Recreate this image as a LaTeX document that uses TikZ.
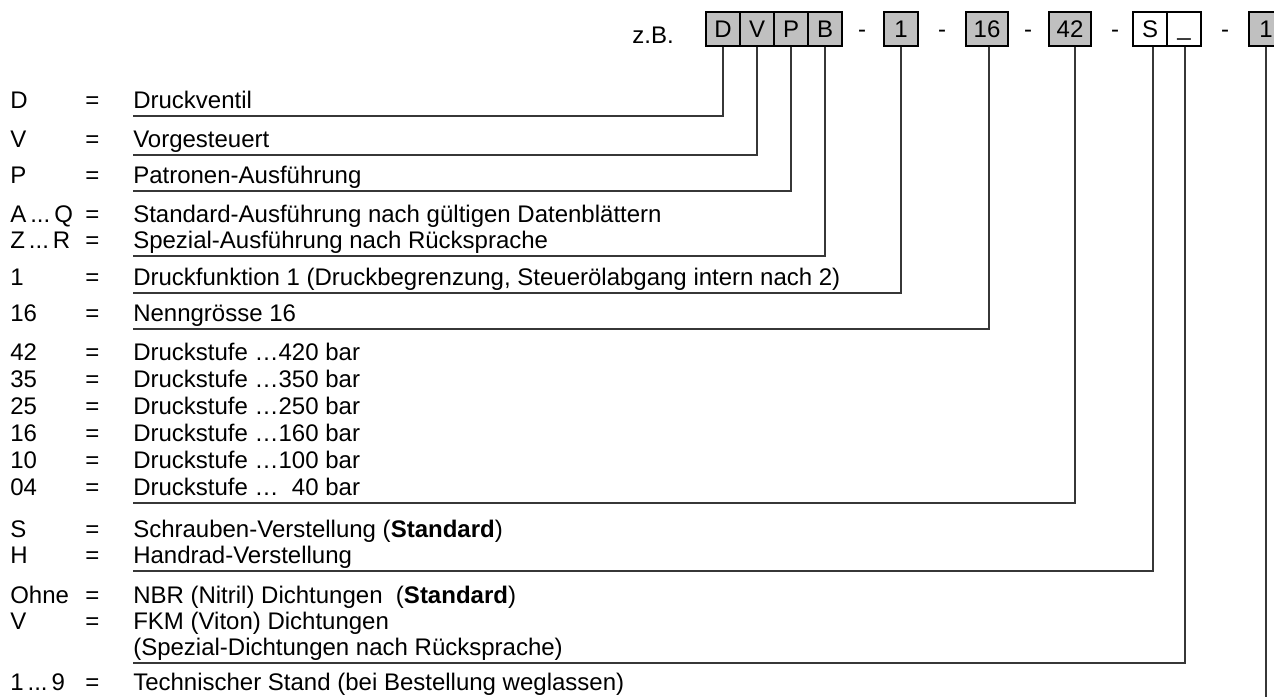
\documentclass[tikz,border=0pt]{standalone}
\usepackage{fontspec}
\setmainfont{Liberation Sans}
\definecolor{boxgray}{RGB}{192,192,192}
\definecolor{leader}{RGB}{55,55,55}
\begin{document}
\begin{tikzpicture}[x=0.75pt,y=-0.75pt,
  font=\fontsize{18pt}{20pt}\selectfont,
  codebox/.style={draw=black, line width=0.9pt, fill=boxgray, inner sep=0pt,
    minimum height=25.5pt, minimum width=25.5pt, text height=12.9pt, text depth=0pt},
  codewide/.style={codebox, minimum width=31.5pt},
  codeopen/.style={codebox, fill=white},
  sep/.style={anchor=base, inner sep=0pt},
  lab/.style={anchor=base west, inner sep=0pt},
  desc/.style={anchor=base west, inner sep=0pt},
  lead/.style={draw=leader, line width=1.05pt}]
\clip (0,0) rectangle (1274,697);
\fill[white] (0,0) rectangle (1274,697);

% ---- type code header ----
\node[anchor=base east, inner sep=0pt] (zb) at (674,43) {z.B.};
\node[codebox] (bD) at (723,29) {D};
\node[codebox] (bV) at (757,29) {V};
\node[codebox] (bP) at (791,29) {P};
\node[codebox] (bB) at (825,29) {B};
\node[sep] (s1) at (862,37) {-};
\node[codebox] (bF) at (901,29) {1};
\node[sep] (s2) at (942,37) {-};
\node[codewide] (bN) at (987,29) {16};
\node[sep] (s3) at (1028,37) {-};
\node[codewide] (bS) at (1070,29) {42};
\node[sep] (s4) at (1115,37) {-};
\node[codeopen] (bA) at (1150,29) {S};
\node[codeopen] (bG) at (1184,29) {\raisebox{1.5pt}{\_}};
\node[sep] (s5) at (1225,37) {-};
\node[codebox] (bT) at (1266,29) {1};

% ---- key: labels, equals signs and descriptions ----
\node[lab] (k1) at (10,108) {D};        \node[lab] (e1) at (85,108) {=};  \node[desc] (d1) at (133,108) {Druckventil};
\node[lab] (k2) at (10,147) {V};        \node[lab] (e2) at (85,147) {=};  \node[desc] (d2) at (133,147) {Vorgesteuert};
\node[lab] (k3) at (10,183) {P};        \node[lab] (e3) at (85,183) {=};  \node[desc] (d3) at (133,183) {Patronen-Ausführung};
\node[lab] (k4) at (10,222) {A\,...\,Q};  \node[lab] (e4) at (85,222) {=};  \node[desc] (d4) at (133,222) {Standard-Ausführung nach gültigen Datenblättern};
\node[lab] (k5) at (10,248) {Z\,...\,R};  \node[lab] (e5) at (85,248) {=};  \node[desc] (d5) at (133,248) {Spezial-Ausführung nach Rücksprache};
\node[lab] (k6) at (10,285) {1};        \node[lab] (e6) at (85,285) {=};  \node[desc] (d6) at (133,285) {Druckfunktion 1 (Druckbegrenzung, Steuerölabgang intern nach 2)};
\node[lab] (k7) at (10,321) {16};       \node[lab] (e7) at (85,321) {=};  \node[desc] (d7) at (133,321) {Nenngrösse 16};
\node[lab] (k8) at (10,360) {42};       \node[lab] (e8) at (85,360) {=};  \node[desc] (d8) at (133,360) {Druckstufe …420 bar};
\node[lab] (k9) at (10,387) {35};       \node[lab] (e9) at (85,387) {=};  \node[desc] (d9) at (133,387) {Druckstufe …350 bar};
\node[lab] (k10) at (10,414) {25};      \node[lab] (e10) at (85,414) {=}; \node[desc] (d10) at (133,414) {Druckstufe …250 bar};
\node[lab] (k11) at (10,441) {16};      \node[lab] (e11) at (85,441) {=}; \node[desc] (d11) at (133,441) {Druckstufe …160 bar};
\node[lab] (k12) at (10,468) {10};      \node[lab] (e12) at (85,468) {=}; \node[desc] (d12) at (133,468) {Druckstufe …100 bar};
\node[lab] (k13) at (10,495) {04};      \node[lab] (e13) at (85,495) {=}; \node[desc] (d13) at (133,495) {Druckstufe …\hphantom{1}40 bar};
\node[lab] (k14) at (10,537) {S};       \node[lab] (e14) at (85,537) {=}; \node[desc] (d14) at (133,537) {Schrauben-Verstellung (\textbf{Standard})};
\node[lab] (k15) at (10,563) {H};       \node[lab] (e15) at (85,563) {=}; \node[desc] (d15) at (133,563) {Handrad-Verstellung};
\node[lab] (k16) at (10,603) {Ohne};    \node[lab] (e16) at (85,603) {=}; \node[desc] (d16) at (133,603) {NBR (Nitril) Dichtungen\ \ (\textbf{Standard})};
\node[lab] (k17) at (10,629) {V};       \node[lab] (e17) at (85,629) {=}; \node[desc] (d17) at (133,629) {FKM (Viton) Dichtungen};
\node[desc] (d18) at (133,655) {(Spezial-Dichtungen nach Rücksprache)};
\node[lab] (k19) at (10,690) {1\,...\,9}; \node[lab] (e19) at (85,690) {=}; \node[desc] (d19) at (133,690) {Technischer Stand (bei Bestellung weglassen)};

% ---- leader ends under each description group ----
\coordinate (u1) at (133,116);
\coordinate (u2) at (133,155);
\coordinate (u3) at (133,191);
\coordinate (u4) at (133,256);
\coordinate (u5) at (133,293);
\coordinate (u6) at (133,329);
\coordinate (u7) at (133,503);
\coordinate (u8) at (133,571);
\coordinate (u9) at (133,663);
\coordinate (u10) at (1266,697);

% ---- leaders from the code positions ----
\draw[lead] (bD.south) |- (u1);
\draw[lead] (bV.south) |- (u2);
\draw[lead] (bP.south) |- (u3);
\draw[lead] (bB.south) |- (u4);
\draw[lead] (bF.south) |- (u5);
\draw[lead] ([xshift=1.5pt]bN.south) |- (u6);
\draw[lead] ([xshift=3.75pt]bS.south) |- (u7);
\draw[lead] ([xshift=2.25pt]bA.south) |- (u8);
\draw[lead] ([xshift=0.75pt]bG.south) |- (u9);
\draw[lead] (bT.south) -- (u10);
\end{tikzpicture}
\end{document}
